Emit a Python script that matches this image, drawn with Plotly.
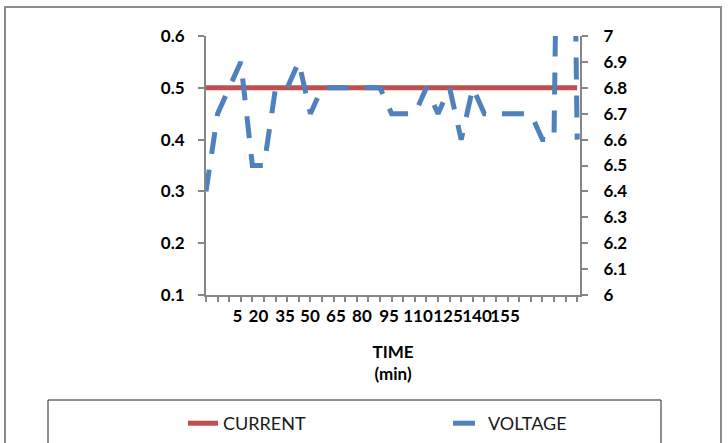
import plotly.graph_objects as go

# ---- data ----
time_min = [5, 10, 15, 20, 25, 30, 35, 40, 45, 50, 55, 60, 65, 70, 75, 80,
            85, 90, 95, 100, 105, 110, 115, 120, 125, 130, 135, 140, 145,
            150, 155, 160, 165]
current = [0.5, 0.5, 0.5, 0.5, 0.5, 0.5, 0.5, 0.5, 0.5, 0.5, 0.5, 0.5, 0.5,
           0.5, 0.5, 0.5, 0.5, 0.5, 0.5, 0.5, 0.5, 0.5, 0.5, 0.5, 0.5, 0.5,
           0.5, 0.5, 0.5, 0.5, 0.5, 0.5, 0.5]
voltage = [6.4, 6.7, 6.8, 6.9, 6.5, 6.5, 6.8, 6.8, 6.9, 6.7, 6.8, 6.8, 6.8,
           6.8, 6.8, 6.8, 6.7, 6.7, 6.7, 6.8, 6.7, 6.8, 6.6, 6.8, 6.7, 6.7,
           6.7, 6.7, 6.7, 6.6, 6.6, 10.0, 6.6]

# tick labels as they appear under the axis (text and where it sits)
x_tick_text = ["5", "20", "35", "50", "65", "80", "95", "110", "125", "140", "155"]
x_tick_pos = [18.6, 27.6, 39.1, 49.8, 61.0, 72.2, 83.9, 96.4, 109.3, 121.8, 133.9]
y_left_ticks = [0.1, 0.2, 0.3, 0.4, 0.5, 0.6]
y_left_text = ["0.1", "0.2", "0.3", "0.4", "0.5", "0.6"]
y_right_ticks = [6, 6.1, 6.2, 6.3, 6.4, 6.5, 6.6, 6.7, 6.8, 6.9, 7]
y_right_text = ["6", "6.1", "6.2", "6.3", "6.4", "6.5", "6.6", "6.7", "6.8", "6.9", "7"]

RED = "#C0504D"
BLUE = "#4F81BD"
AXIS = "#868686"
FONT = "Lato"

fig = go.Figure()
fig.add_trace(go.Scatter(
    x=time_min, y=current, name="CURRENT", mode="lines",
    line=dict(color=RED, width=5), yaxis="y"))
fig.add_trace(go.Scatter(
    x=time_min, y=voltage, name="VOLTAGE", mode="lines",
    line=dict(color=BLUE, width=5, dash="22px,16px"), yaxis="y2"))

L, R, T, B = 206, 148, 36, 148
W, H = 728, 443
pw, ph = W - L - R, H - T - B

def px_x(p):
    return (p - L) / pw

def px_y(p):
    return (H - B - p) / ph

tickfont = dict(family=FONT, size=17, color="#000000", weight="bold")

fig.update_layout(
    width=W, height=H,
    margin=dict(l=L, r=R, t=T, b=B, autoexpand=False),
    paper_bgcolor="white", plot_bgcolor="white",
    font=dict(family=FONT, color="#000000"),
    showlegend=True,
    legend=dict(orientation="h", x=px_x(183), xanchor="left",
                y=px_y(405), yanchor="top",
                entrywidth=220, entrywidthmode="pixels",
                font=dict(family=FONT, size=18, color="#1a1a1a"),
                bgcolor="rgba(0,0,0,0)", traceorder="normal"),
    xaxis=dict(
        range=[5, 5 + pw / 2.32], showgrid=False, zeroline=False,
        showline=True, linecolor=AXIS, linewidth=2,
        tickmode="array", tickvals=x_tick_pos, ticktext=x_tick_text,
        tickangle=0, ticks="", tickfont=tickfont, ticklabelstandoff=5,
        minor=dict(ticks="outside", tickmode="linear", tick0=5, dtick=5,
                   ticklen=5, tickwidth=1.5, tickcolor=AXIS, showgrid=False),
        title=dict(text="TIME<br>(min)", standoff=21,
                   font=dict(family=FONT, size=17, color="#000000", weight="bold")),
    ),
    yaxis=dict(
        range=[0.1, 0.6], tickmode="array", tickvals=y_left_ticks,
        ticktext=y_left_text,
        showgrid=False, zeroline=False, showline=True, linecolor=AXIS,
        linewidth=2, ticks="outside", ticklen=6, tickwidth=1.5,
        tickcolor=AXIS, tickfont=tickfont, ticklabelstandoff=10),
    yaxis2=dict(
        range=[6, 7], overlaying="y", side="right", tickmode="array",
        tickvals=y_right_ticks, ticktext=y_right_text,
        showgrid=False, zeroline=False, showline=True, linecolor=AXIS,
        linewidth=2, ticks="outside", ticklen=6, tickwidth=1.5,
        tickcolor=AXIS, tickfont=tickfont, ticklabelstandoff=12),
    shapes=[
        dict(type="rect", xref="paper", yref="paper",
             x0=px_x(5), x1=px_x(721), y0=px_y(470), y1=px_y(7),
             line=dict(color="#8C8C8C", width=2), fillcolor="rgba(0,0,0,0)",
             layer="below"),
        dict(type="rect", xref="paper", yref="paper",
             x0=px_x(48), x1=px_x(661), y0=px_y(470), y1=px_y(400),
             line=dict(color="#222222", width=1), fillcolor="rgba(0,0,0,0)",
             layer="below"),
    ],
)

fig.write_html("out.html", config={"displayModeBar": False},
               post_script="document.body.style.margin='0px';")
